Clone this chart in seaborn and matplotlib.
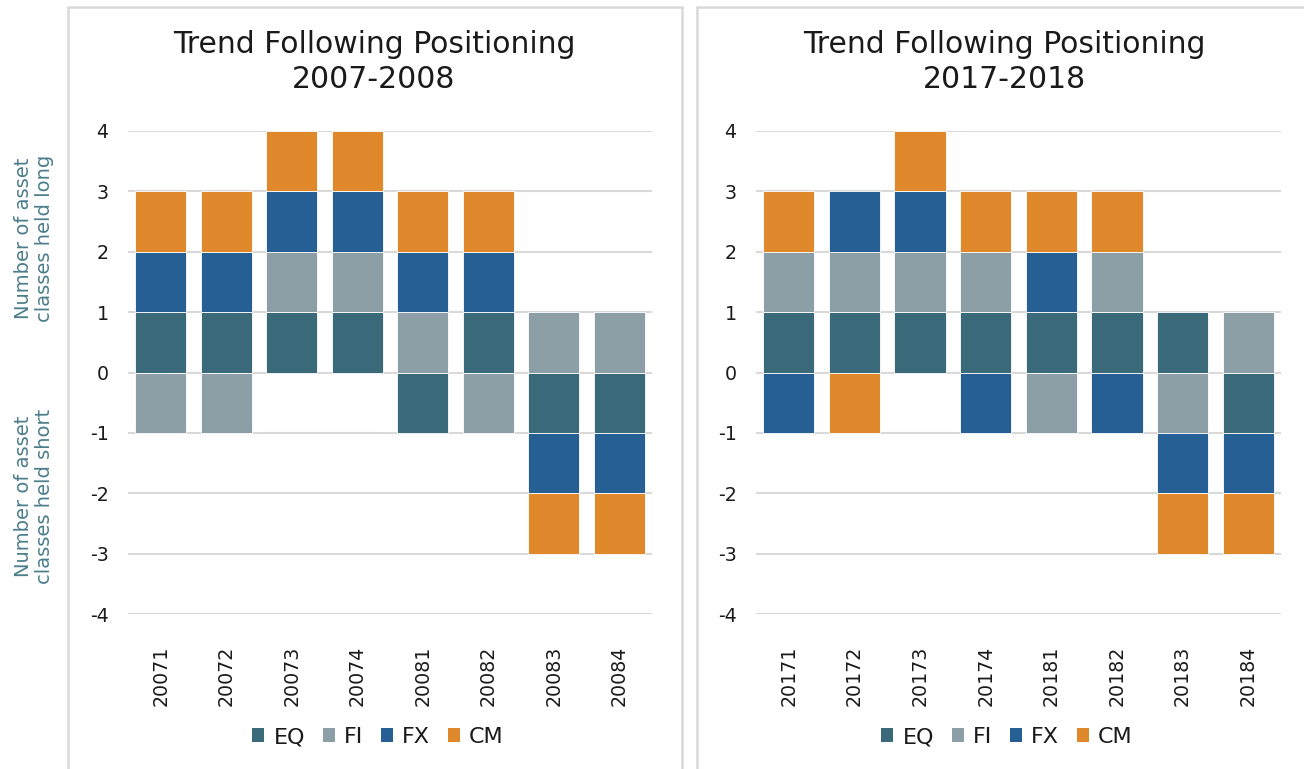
import matplotlib
matplotlib.use("Agg")
import matplotlib.pyplot as plt
import seaborn as sns
import numpy as np
from matplotlib.patches import Patch
from matplotlib.lines import Line2D

# ---------------- data ----------------
series = ["EQ", "FI", "FX", "CM"]
colors = ["#3a6a79", "#8c9ea6", "#255f93", "#e0892c"]

periods_1 = ["20071", "20072", "20073", "20074", "20081", "20082", "20083", "20084"]
eq_1 = [1, 1, 1, 1, -1, 1, -1, -1]
fi_1 = [-1, -1, 1, 1, 1, -1, 1, 1]
fx_1 = [1, 1, 1, 1, 1, 1, -1, -1]
cm_1 = [1, 1, 1, 1, 1, 1, -1, -1]

periods_2 = ["20171", "20172", "20173", "20174", "20181", "20182", "20183", "20184"]
eq_2 = [1, 1, 1, 1, 1, 1, 1, -1]
fi_2 = [1, 1, 1, 1, -1, 1, -1, 1]
fx_2 = [-1, 1, 1, -1, 1, -1, -1, -1]
cm_2 = [1, -1, 1, 1, 1, 1, -1, -1]

title_1 = "Trend Following Positioning\n2007-2008"
title_2 = "Trend Following Positioning\n2017-2018"
yticks = [4, 3, 2, 1, 0, -1, -2, -3, -4]

# ---------------- style ----------------
sns.set_theme(style="white")
plt.rcParams["font.family"] = ["DejaVu Sans"]

W, H = 1304, 769
fig = plt.figure(figsize=(W / 100, H / 100), dpi=100)

def fx(px):
    return px / W

def fy(py):
    return 1 - py / H

grid_c = "#d9d9d9"
txt_c = "#1a1a1a"

def draw_panel(ax, periods, vals_list, title, cx, legend_cx):
    pos = np.zeros(len(periods))
    neg = np.zeros(len(periods))
    for name, vals, col in zip(series, vals_list, colors):
        vals = np.array(vals, dtype=float)
        bottoms = np.where(vals > 0, pos, neg)
        heights = np.where(vals > 0, 1.0, -1.0)
        pos = pos + (vals > 0)
        neg = neg - (vals < 0)
        sns.barplot(x=periods, y=heights, bottom=bottoms, order=periods,
                    color=col, saturation=1, width=0.78, errorbar=None,
                    edgecolor="white", linewidth=0.6, ax=ax, zorder=3)
    ax.set_ylim(-4, 4)
    ax.set_xlim(-0.5, len(periods) - 0.5)
    ax.set_yticks(yticks)
    ax.set_yticklabels([str(t) for t in yticks], fontsize=13.7, color=txt_c)
    ax.set_xticks(range(len(periods)))
    ax.set_xticklabels(periods, rotation=90, fontsize=13.7, color=txt_c)
    ax.tick_params(axis="y", length=0, pad=14)
    ax.tick_params(axis="x", length=0, pad=23)
    ax.set_xlabel("")
    ax.set_ylabel("")
    for s in ax.spines.values():
        s.set_visible(False)
    ax.yaxis.grid(True, color=grid_c, linewidth=1.5, zorder=0)
    ax.xaxis.grid(False)
    ax.set_axisbelow(True)
    fig.text(cx, fy(62), title, ha="center", va="center", fontsize=21.5,
             color=txt_c, linespacing=1.3)
    handles = [Patch(facecolor=c, edgecolor="none") for c in colors]
    fig.legend(handles, series, loc="center", bbox_to_anchor=(legend_cx, fy(737)),
               ncol=4, frameon=False, fontsize=16, handlelength=0.55,
               handleheight=0.55, handletextpad=0.42, columnspacing=0.78,
               labelcolor=txt_c)

ax1 = fig.add_axes([fx(128), fy(614), fx(524), fy(131) - fy(614)])
ax2 = fig.add_axes([fx(756), fy(614), fx(525), fy(131) - fy(614)])

draw_panel(ax1, periods_1, [eq_1, fi_1, fx_1, cm_1], title_1, fx(374), fx(378))
draw_panel(ax2, periods_2, [eq_2, fi_2, fx_2, cm_2], title_2, fx(1004), fx(1007))

# frames
frame_kw = dict(color=grid_c, linewidth=1.8, transform=fig.transFigure)
fig.add_artist(Line2D([fx(67.5), fx(67.5)], [fy(6.5), 0], **frame_kw))
fig.add_artist(Line2D([fx(67.5), fx(681.5)], [fy(6.5), fy(6.5)], **frame_kw))
fig.add_artist(Line2D([fx(681.5), fx(681.5)], [fy(6.5), 0], **frame_kw))
fig.add_artist(Line2D([fx(696.5), fx(696.5)], [fy(6.5), 0], **frame_kw))
fig.add_artist(Line2D([fx(696.5), 1], [fy(6.5), fy(6.5)], **frame_kw))

# y-axis annotations
lab_c = "#4b7d8b"
fig.text(fx(34), fy(238), "Number of asset\nclasses held long", rotation=90,
         ha="center", va="center", fontsize=14, color=lab_c, linespacing=1.1)
fig.text(fx(34), fy(496), "Number of asset\nclasses held short", rotation=90,
         ha="center", va="center", fontsize=14, color=lab_c, linespacing=1.1)

fig.savefig("out.png", dpi=100)
